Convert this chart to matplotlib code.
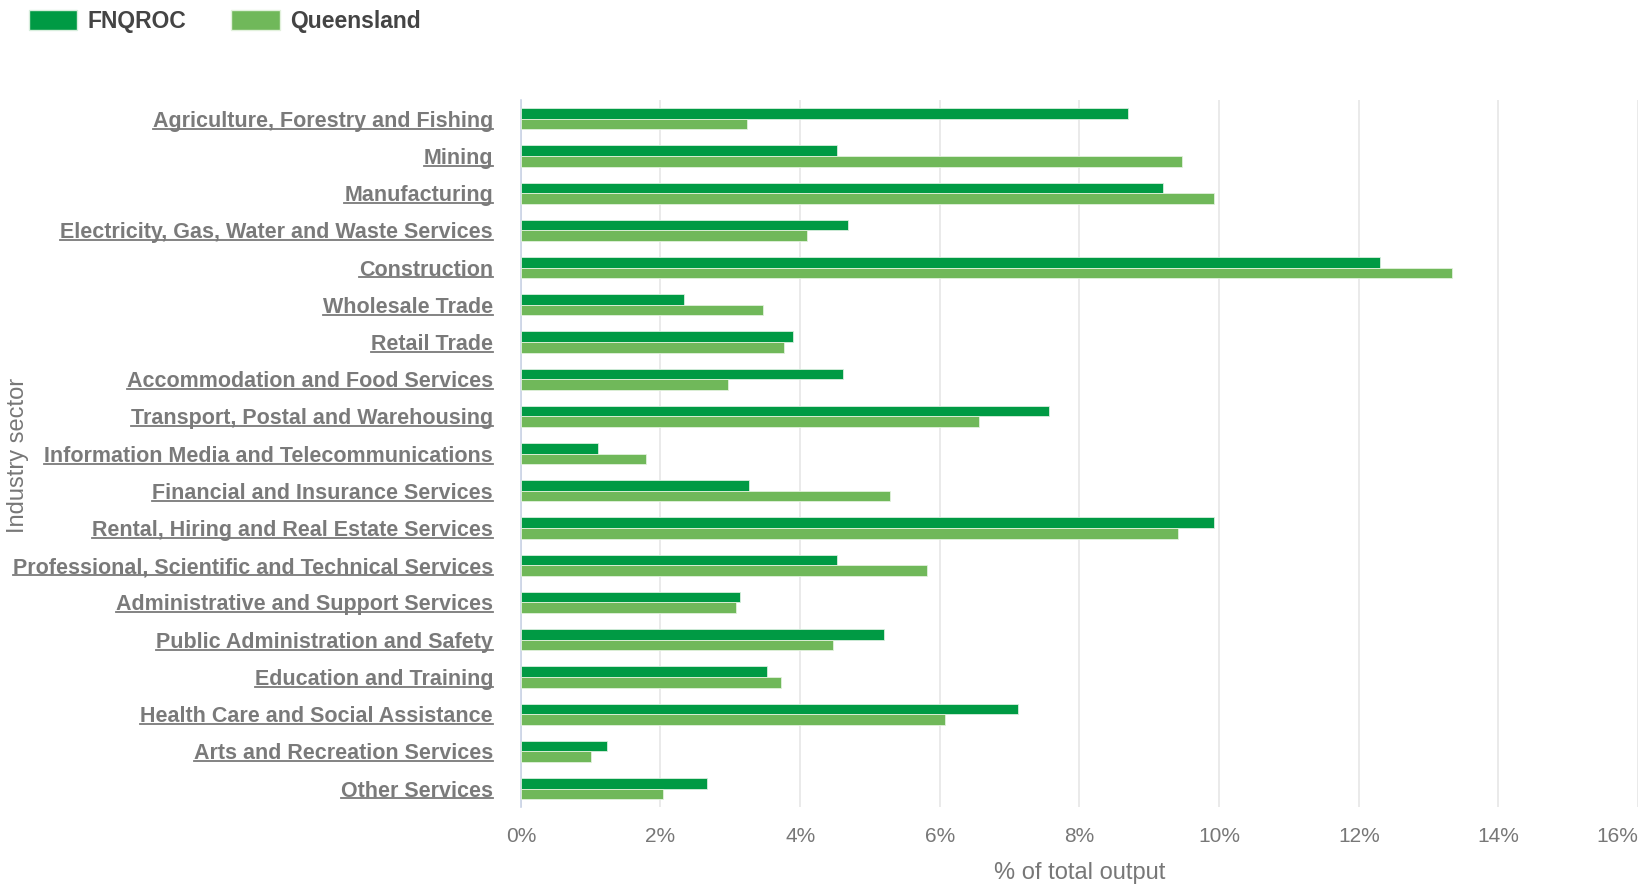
import matplotlib
matplotlib.use("Agg")
import matplotlib.pyplot as plt
from matplotlib.lines import Line2D
from matplotlib.patches import Patch
import numpy as np

categories = [
    "Agriculture, Forestry and Fishing",
    "Mining",
    "Manufacturing",
    "Electricity, Gas, Water and Waste Services",
    "Construction",
    "Wholesale Trade",
    "Retail Trade",
    "Accommodation and Food Services",
    "Transport, Postal and Warehousing",
    "Information Media and Telecommunications",
    "Financial and Insurance Services",
    "Rental, Hiring and Real Estate Services",
    "Professional, Scientific and Technical Services",
    "Administrative and Support Services",
    "Public Administration and Safety",
    "Education and Training",
    "Health Care and Social Assistance",
    "Arts and Recreation Services",
    "Other Services",
]
fnqroc = [8.69, 4.53, 9.20, 4.68, 12.30, 2.33, 3.90, 4.62, 7.57, 1.10,
          3.27, 9.92, 4.53, 3.14, 5.20, 3.53, 7.12, 1.23, 2.67]
queensland = [3.24, 9.47, 9.92, 4.10, 13.33, 3.47, 3.77, 2.96, 6.56, 1.79,
              5.29, 9.41, 5.81, 3.08, 4.47, 3.72, 6.08, 1.01, 2.04]
series_names = ["FNQROC", "Queensland"]
xticks = [0, 2, 4, 6, 8, 10, 12, 14, 16]
xtick_labels = ["0%", "2%", "4%", "6%", "8%", "10%", "12%", "14%", "16%"]

C_FNQ = "#009a44"
C_QLD = "#70b85a"
SANS = ["Liberation Sans", "DejaVu Sans"]

fig = plt.figure(figsize=(16.43, 8.86), dpi=100)
ax = fig.add_axes([0.317, 0.089, 0.680, 0.798])

y = np.arange(len(categories))
h = 0.285
ax.barh(y - h / 2, fnqroc, height=h, color=C_FNQ, edgecolor="#d8eedd", linewidth=0.6, zorder=3)
ax.barh(y + h / 2, queensland, height=h, color=C_QLD, edgecolor="#e2f1dc", linewidth=0.6, zorder=3)

ax.set_ylim(len(categories) - 0.5, -0.5)
ax.set_xlim(0, 16)
ax.set_xticks(xticks)
ax.set_xticklabels(xtick_labels, family=SANS, fontsize=15, color="#777777")
xl = ax.get_xticklabels()
xl[-1].set_horizontalalignment("right")
ax.set_yticks(y)
ax.set_yticklabels(categories, family=SANS, fontsize=15.5, fontweight="bold", color="#7a7a7a")
ax.tick_params(axis="both", length=0)
ax.tick_params(axis="x", pad=14)
ax.tick_params(axis="y", pad=20)
ax.grid(axis="x", color="#e6e6e6", linewidth=1.2, zorder=0)
ax.set_axisbelow(True)
for s in ["top", "right", "bottom"]:
    ax.spines[s].set_visible(False)
ax.spines["left"].set_color("#c9d3e6")
ax.spines["left"].set_linewidth(1.2)

ax.set_xlabel("% of total output", family=SANS, fontsize=17, color="#777777", labelpad=12)
fig.text(0.0112, 0.486, "Industry sector", rotation=90, ha="center", va="center",
         family=SANS, fontsize=17, color="#777777")

handles = [Patch(facecolor=C_FNQ, edgecolor="#d8eedd"), Patch(facecolor=C_QLD, edgecolor="#e2f1dc")]
fig.legend(handles, series_names, loc="upper left", bbox_to_anchor=(0.005, 1.012), ncol=2,
           frameon=False, handlelength=2.1, handleheight=0.95, columnspacing=1.98, handletextpad=0.45,
           prop={"family": SANS, "size": 16.5, "weight": "bold"}, labelcolor="#444444")

# underline the category labels
fig.canvas.draw()
r = fig.canvas.get_renderer()
for t in ax.get_yticklabels():
    bb = t.get_window_extent(renderer=r).transformed(fig.transFigure.inverted())
    yy = bb.y0 + 0.0035
    fig.add_artist(Line2D([bb.x0, bb.x1], [yy, yy], transform=fig.transFigure,
                          color="#7a7a7a", linewidth=1.3))

fig.savefig("out.png", dpi=100)
